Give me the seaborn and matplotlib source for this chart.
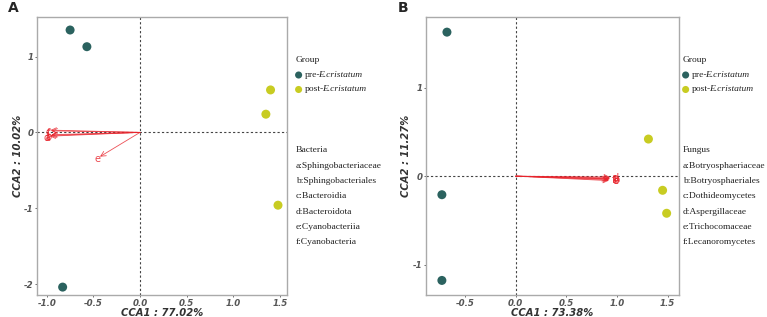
import matplotlib
matplotlib.use("Agg")
import matplotlib.pyplot as plt
import seaborn as sns
import pandas as pd

# sample scores, panel A (bacteria)
a_groups = ["pre", "pre", "pre", "post", "post", "post"]
a_cca1 = [-0.75, -0.57, -0.83, 1.40, 1.35, 1.48]
a_cca2 = [1.35, 1.13, -2.04, 0.56, 0.24, -0.96]
# species arrows, panel A
a_arrow_names = ["a", "b", "c", "d", "e", "f"]
a_arrow_x = [-0.96, -0.95, -0.96, -0.97, -0.43, -0.95]
a_arrow_y = [-0.04, -0.03, 0.03, -0.05, -0.32, 0.02]
a_taxa = ["a:Sphingobacteriaceae", "b:Sphingobacteriales", "c:Bacteroidia",
          "d:Bacteroidota", "e:Cyanobacteriia", "f:Cyanobacteria"]

# sample scores, panel B (fungi)
b_groups = ["pre", "pre", "pre", "post", "post", "post"]
b_cca1 = [-0.68, -0.73, -0.73, 1.31, 1.45, 1.49]
b_cca2 = [1.63, -0.21, -1.18, 0.42, -0.16, -0.42]
b_arrow_names = ["a", "b", "c", "d", "e", "f"]
b_arrow_x = [0.93, 0.93, 0.92, 0.93, 0.92, 0.91]
b_arrow_y = [-0.02, -0.03, -0.04, -0.01, -0.05, -0.03]
b_taxa = ["a:Botryosphaeriaceae", "b:Botryosphaeriales", "c:Dothideomycetes",
          "d:Aspergillaceae", "e:Trichocomaceae", "f:Lecanoromycetes"]

pal = {"pre": "#2b625f", "post": "#c8cc22"}
red = "#e8242c"

sns.set_style("white")

fig = plt.figure(figsize=(7.67, 3.17), dpi=100)
axA = fig.add_axes([0.048, 0.068, 0.326, 0.878])
axB = fig.add_axes([0.555, 0.068, 0.330, 0.878])

tick_font = dict(fontsize=6.2, fontweight="bold", fontstyle="italic", color="#555555",
                 family="DejaVu Sans")
leg_font = dict(fontsize=6.8, family="Liberation Serif", color="#222222")


def panel(ax, groups, x, y, ax_x, ax_y, names, xlim, ylim, xticks, yticks, xlab, ylab,
          taxa_title, taxa, label_dx, label_dy, lx):
    df = pd.DataFrame({"CCA1": x, "CCA2": y, "group": groups})
    ax.axhline(0, color="#444444", ls=(0, (2, 2)), lw=0.8, zorder=1)
    ax.axvline(0, color="#444444", ls=(0, (2, 2)), lw=0.8, zorder=1)
    sns.scatterplot(data=df, x="CCA1", y="CCA2", hue="group", palette=pal,
                    hue_order=["pre", "post"], s=42, edgecolor="none", ax=ax,
                    legend=False, zorder=3)
    for n, px, py in zip(names, ax_x, ax_y):
        ax.annotate("", xy=(px, py), xytext=(0, 0),
                    arrowprops=dict(arrowstyle="->", color=red, lw=0.6, alpha=0.8,
                                    shrinkA=0, shrinkB=0, mutation_scale=9))
        ax.text(px + label_dx, py + label_dy, n, color=red, fontsize=7,
                ha="center", va="center", alpha=0.85)
    ax.set_xlim(*xlim)
    ax.set_ylim(*ylim)
    ax.set_xticks(xticks)
    ax.set_yticks(yticks)
    ax.set_xticklabels([f"{t:.1f}" for t in xticks], **tick_font)
    ax.set_yticklabels([f"{t:g}" for t in yticks], **tick_font)
    ax.tick_params(length=1.5, width=0.6, color="#555555", pad=0.8, bottom=True, left=True)
    ax.set_xlabel(xlab, fontsize=7.2, fontweight="bold", fontstyle="italic",
                  color="#333333", labelpad=0)
    ax.set_ylabel(ylab, fontsize=7.2, fontweight="bold", fontstyle="italic",
                  color="#333333", labelpad=1)
    for sp in ax.spines.values():
        sp.set_color("#aaaaaa")
        sp.set_linewidth(1.0)

    # legend-like annotation to the right
    tr = ax.transAxes
    ax.text(lx, 0.846, "Group", transform=tr, va="center", **leg_font)
    for i, (g, pre) in enumerate([("pre", "pre-"), ("post", "post-")]):
        yy = 0.792 - i * 0.052
        ax.scatter([lx + 0.012], [yy], transform=tr, s=26, color=pal[g],
                   clip_on=False, edgecolor="none")
        t1 = ax.text(lx + 0.035, yy, pre, transform=tr, va="center", **leg_font)
        ax.annotate("E.cristatum", xy=(1, 0.5), xycoords=t1, va="center",
                    xytext=(-1.2, 0), textcoords="offset points",
                    fontstyle="italic", **leg_font)
    ax.text(lx, 0.523, taxa_title, transform=tr, va="center", **leg_font)
    for i, t in enumerate(taxa):
        ax.text(lx, 0.466 - i * 0.055, t, transform=tr, va="center", **leg_font)


panel(axA, a_groups, a_cca1, a_cca2, a_arrow_x, a_arrow_y, a_arrow_names,
      (-1.107, 1.575), (-2.15, 1.52), [-1.0, -0.5, 0.0, 0.5, 1.0, 1.5], [-2, -1, 0, 1],
      "CCA1 : 77.02%", "CCA2 : 10.02%", "Bacteria", a_taxa, -0.03, -0.03, 1.035)
panel(axB, b_groups, b_cca1, b_cca2, b_arrow_x, b_arrow_y, b_arrow_names,
      (-0.89, 1.61), (-1.35, 1.80), [-0.5, 0.0, 0.5, 1.0, 1.5], [-1, 0, 1],
      "CCA1 : 73.38%", "CCA2 : 11.27%", "Fungus", b_taxa, 0.06, -0.01, 1.015)

fig.text(0.010, 0.975, "A", fontsize=10, fontweight="bold", va="center")
fig.text(0.519, 0.975, "B", fontsize=10, fontweight="bold", va="center")

fig.savefig("out.png", dpi=100)
